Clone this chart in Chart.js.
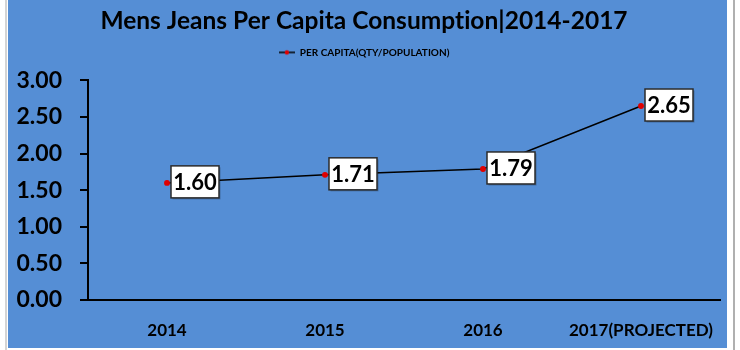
<!DOCTYPE html>
<html>
<head>
<meta charset="utf-8">
<script src="https://cdn.jsdelivr.net/npm/chart.js@4.4.0/dist/chart.umd.min.js"></script>
<style>
html,body{margin:0;padding:0;background:#fff;}
#wrap{width:740px;height:350px;position:relative;}
</style>
</head>
<body>
<div id="wrap"><canvas id="c" width="740" height="350"></canvas></div>
<script>
const categories = ["2014", "2015", "2016", "2017(PROJECTED)"];
const perCapita = [1.60, 1.71, 1.79, 2.65];
const seriesName = "PER CAPITA(QTY/POPULATION)";
const chartTitle = "Mens Jeans Per Capita Consumption|2014-2017";
const yMin = 0, yMax = 3, yStep = 0.5;

const FONT = "Lato, 'Open Sans', sans-serif";
const BLUE = "#558ED5";

// legend marker: short line with red dot
const marker = document.createElement("canvas");
marker.width = 16; marker.height = 8;
(function(){
  const m = marker.getContext("2d");
  m.strokeStyle = "#000"; m.lineWidth = 1.5;
  m.beginPath(); m.moveTo(0,4); m.lineTo(16,4); m.stroke();
  m.fillStyle = "#e00000";
  m.beginPath(); m.arc(8,4,2.2,0,Math.PI*2); m.fill();
})();

const bgPlugin = {
  id: "bg",
  beforeDraw(chart){
    const ctx = chart.ctx;
    ctx.save();
    ctx.fillStyle = "#fff";
    ctx.fillRect(0,0,chart.width,chart.height);
    ctx.fillStyle = "#d4d4d4";
    ctx.fillRect(5,0,2,chart.height);
    ctx.fillStyle = BLUE;
    ctx.fillRect(8,0,719,348);
    ctx.fillStyle = "#b0b0b0";
    ctx.fillRect(733,0,2,chart.height);
    ctx.restore();
    // non-zero letter spacing turns off Lato's "ti" ligature
    if ("letterSpacing" in ctx) ctx.letterSpacing = "0.01px";
  }
};

const labelPlugin = {
  id: "boxLabels",
  afterDatasetsDraw(chart){
    const ctx = chart.ctx;
    const meta = chart.getDatasetMeta(0);
    const ds = chart.data.datasets[0];
    ctx.save();
    ctx.font = "bold 22px " + FONT;
    ctx.textAlign = "center";
    ctx.textBaseline = "middle";
    meta.data.forEach((pt, i) => {
      const txt = ds.data[i].toFixed(2);
      const w = 48, h = 32;
      const x = pt.x + 4, y = pt.y - h/2 - 1;
      ctx.fillStyle = "rgba(0,0,0,0.25)";
      ctx.fillRect(x+1.5, y+1.5, w, h);
      ctx.fillStyle = "#fff";
      ctx.fillRect(x, y, w, h);
      ctx.strokeStyle = "#2b2b2b";
      ctx.lineWidth = 1.5;
      ctx.strokeRect(x, y, w, h);
      ctx.fillStyle = "#000";
      ctx.fillText(txt, x + w/2, y + h/2 + 1);
    });
    ctx.restore();
  }
};

new Chart(document.getElementById("c"), {
  type: "line",
  data: {
    labels: categories,
    datasets: [{
      label: seriesName,
      data: perCapita,
      borderColor: "#000",
      borderWidth: 1.5,
      pointBackgroundColor: "#e00000",
      pointBorderColor: "#e00000",
      pointRadius: 2.2,
      pointHoverRadius: 2.2,
      tension: 0,
      fill: false
    }]
  },
  options: {
    responsive: false,
    animation: false,
    devicePixelRatio: 1,
    layout: { padding: { left: 8, right: 20, top: 0, bottom: 2 } },
    plugins: {
      title: {
        display: true,
        text: chartTitle,
        color: "#000",
        font: { family: FONT, size: 24.5, weight: "bold" },
        padding: { top: 6, bottom: 6 }
      },
      subtitle: {
        display: true,
        text: "",
        weight: 500,
        font: { size: 10, lineHeight: 1 },
        padding: { top: 0, bottom: 3 }
      },
      legend: {
        display: true,
        labels: {
          color: "#000",
          font: { family: FONT, size: 10, weight: "bold" },
          usePointStyle: true,
          pointStyleWidth: 16,
          padding: 6,
          generateLabels(chart){
            return chart.data.datasets.map((d, i) => ({
              text: d.label, pointStyle: marker, fillStyle: "#000",
              strokeStyle: "#000", lineWidth: 0, hidden: false, datasetIndex: i
            }));
          }
        }
      },
      tooltip: { enabled: false }
    },
    scales: {
      x: {
        offset: true,
        grid: { display: false, drawTicks: false },
        border: { display: true, color: "#000", width: 2 },
        ticks: { color: "#000", font: { family: FONT, size: 17, weight: "bold" }, padding: 20, maxRotation: 0 },
        afterFit(s){ s.height = 48; }
      },
      y: {
        min: yMin, max: yMax,
        grid: { display: true, drawOnChartArea: false, drawTicks: true, tickLength: 8, color: "#000", lineWidth: 2 },
        border: { display: true, color: "#000", width: 2 },
        ticks: { stepSize: yStep, color: "#000", font: { family: FONT, size: 23, weight: "bold" }, padding: 18,
          callback: v => Number(v).toFixed(2) },
        afterFit(s){ s.width = 80; }
      }
    }
  },
  plugins: [bgPlugin, labelPlugin]
});
</script>
</body>
</html>
